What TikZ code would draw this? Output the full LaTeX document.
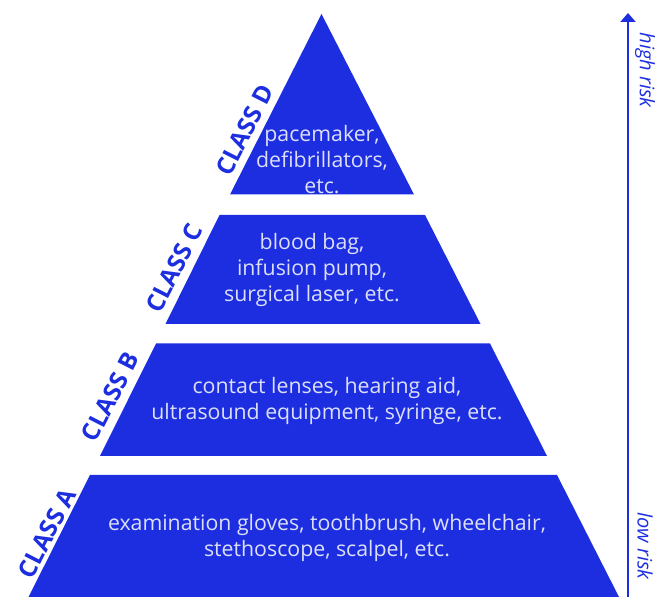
\documentclass[tikz,border=0pt]{standalone}
\usepackage{fontspec}
\setmainfont{Open Sans}
\usetikzlibrary{arrows.meta}
\definecolor{pblue}{HTML}{1C2EE0}
\definecolor{ptext}{HTML}{DCDFF8}
\begin{document}
\begin{tikzpicture}[x=1pt,y=1pt,
  tier/.style={fill=pblue,draw=none},
  items/.style={text=ptext,align=center,font=\fontsize{21.3}{26}\selectfont,inner sep=0pt},
  classlbl/.style={text=pblue,font=\fontsize{24.5}{26}\selectfont\bfseries,rotate=63,inner sep=0pt},
  risk/.style={text=pblue,font=\fontsize{20}{22}\selectfont\itshape,rotate=-90,inner sep=0pt}]
\useasboundingbox (0,0) rectangle (658,599);
% tiers
\draw[tier] (321.5,585) -- (414,404.5) -- (230,404.5) -- cycle;
\draw[tier] (219.5,384) -- (425,384) -- (480.5,275) -- (165.5,275) -- cycle;
\draw[tier] (156,255.5) -- (490,255.5) -- (547,143) -- (100,143) -- cycle;
\draw[tier] (90,124) -- (557,124) -- (619,2) -- (28.5,2) -- cycle;
% item texts
\node[items] (tD) at (322,439) {pacemaker,\\defibrillators,\\etc.};
\node[items] (tC) at (312,329) {blood bag,\\infusion pump,\\surgical laser, etc.};
\node[items] (tB) at (327,198.5) {contact lenses, hearing aid,\\ultrasound equipment, syringe, etc.};
\node[items] (tA) at (327,61.5) {examination gloves, toothbrush, wheelchair,\\stethoscope, scalpel, etc.};
% class labels
\node[classlbl] (cD) at (245,469) {CLASS D};
\node[classlbl] (cC) at (174,331) {CLASS C};
\node[classlbl] (cB) at (110,202) {CLASS B};
\node[classlbl] (cA) at (47,66) {CLASS A};
% risk arrow
\coordinate (lo) at (628,2);
\coordinate (hi) at (628,586);
\draw[pblue,line width=2pt,-{Triangle[length=9pt,width=15pt]}] (lo) -- (hi);
\node[risk] (hr) at (645,529) {high risk};
\node[risk] (lr) at (645,53) {low risk};
\end{tikzpicture}
\end{document}
